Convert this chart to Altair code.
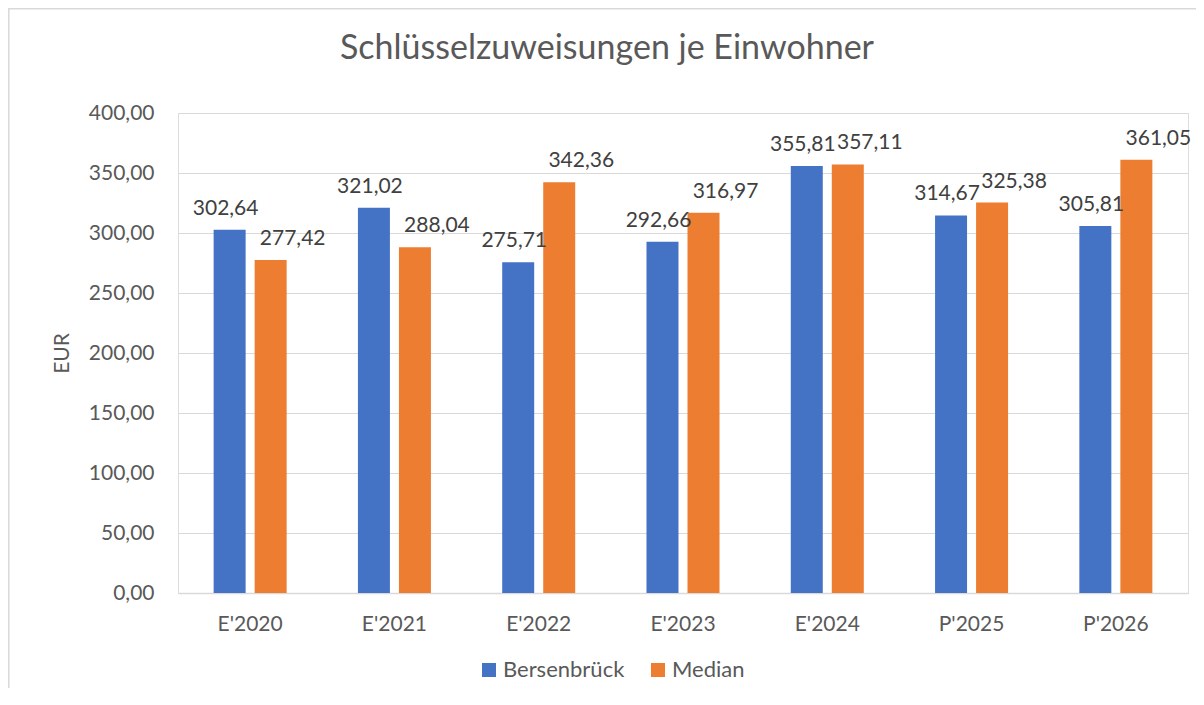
import altair as alt
import pandas as pd

categories = ["E'2020", "E'2021", "E'2022", "E'2023", "E'2024", "P'2025", "P'2026"]
series_names = ["Bersenbrück", "Median"]
bersenbrueck = [302.64, 321.02, 275.71, 292.66, 355.81, 314.67, 305.81]
median = [277.42, 288.04, 342.36, 316.97, 357.11, 325.38, 361.05]
y_ticks = [0, 50, 100, 150, 200, 250, 300, 350, 400]
colors = ["#4472C4", "#ED7D31"]

rows = []
for c, v in zip(categories, bersenbrueck):
    rows.append({"category": c, "series": series_names[0], "value": v})
for c, v in zip(categories, median):
    rows.append({"category": c, "series": series_names[1], "value": v})
df = pd.DataFrame(rows)

FONT = "Lato"
W, H = 1010, 480
PAD_L, PAD_T = 170, 105

x_enc = alt.X(
    "category:N",
    sort=categories,
    scale=alt.Scale(paddingInner=0.494, paddingOuter=0.247),
    axis=alt.Axis(
        title=None, labelAngle=0, ticks=False, domainColor="#d9d9d9", domainWidth=1.5,
        labelFontSize=21, labelFont=FONT, labelColor="#595959", labelPadding=20,
    ),
)
xo_enc = alt.XOffset(
    "series:N", sort=series_names, scale=alt.Scale(paddingInner=0.22, paddingOuter=0)
)
y_enc = alt.Y(
    "value:Q",
    scale=alt.Scale(domain=[0, 400], nice=False),
    axis=alt.Axis(
        title="EUR", values=y_ticks, domain=False, ticks=False,
        gridColor="#d9d9d9", gridWidth=1.2,
        labelExpr="replace(format(datum.value, '.2f'), '.', ',')",
        labelFontSize=21, labelFont=FONT, labelColor="#595959", labelPadding=24,
        titleFontSize=21, titleFont=FONT, titleColor="#595959", titleFontWeight="normal",
        titlePadding=16,
    ),
)

base = alt.Chart(df)

bars = base.mark_bar().encode(
    x=x_enc,
    xOffset=xo_enc,
    y=y_enc,
    color=alt.Color(
        "series:N",
        sort=series_names,
        scale=alt.Scale(domain=series_names, range=colors),
        legend=alt.Legend(
            title=None, orient="none", direction="horizontal",
            legendX=300, legendY=546, symbolType="square", symbolSize=196,
            symbolStrokeWidth=0, labelFontSize=22, labelFont=FONT, labelColor="#595959",
            columnPadding=22, labelOffset=3, padding=0,
        ),
    ),
)

def labels(name, dx):
    return base.transform_filter(alt.datum.series == name).transform_calculate(
        label="replace(format(datum.value, '.2f'), '.', ',')"
    ).mark_text(
        dx=dx, dy=-21, baseline="middle", align="center",
        font=FONT, fontSize=21, color="#404040",
    ).encode(
        x=alt.X("category:N", sort=categories),
        xOffset=alt.XOffset("series:N", sort=series_names),
        y=alt.Y("value:Q"),
        text="label:N",
    )

border = alt.Chart(pd.DataFrame({"a": [0]})).mark_rect(
    fill=None, stroke="#d9d9d9", strokeWidth=1.5
).encode(
    x=alt.value(-PAD_L + 0.8),
    x2=alt.value(W + 60),
    y=alt.value(-PAD_T + 0.8),
    y2=alt.value(H + 200),
)

chart = alt.layer(border, bars, labels(series_names[0], -4), labels(series_names[1], 22)).properties(
    width=W,
    height=H,
    padding={"left": PAD_L, "top": PAD_T, "right": 8, "bottom": 95},
    autosize=alt.AutoSizeParams(type="none"),
    title=alt.TitleParams(
        "Schlüsselzuweisungen je Einwohner", font=FONT, fontSize=34,
        fontWeight="normal", color="#595959", anchor="middle", dx=-76,
        baseline="alphabetic", offset=-85,
    ),
).configure_view(stroke=None).configure(background="white")

chart.save("out.html", embed_options={"renderer": "svg", "actions": False})
